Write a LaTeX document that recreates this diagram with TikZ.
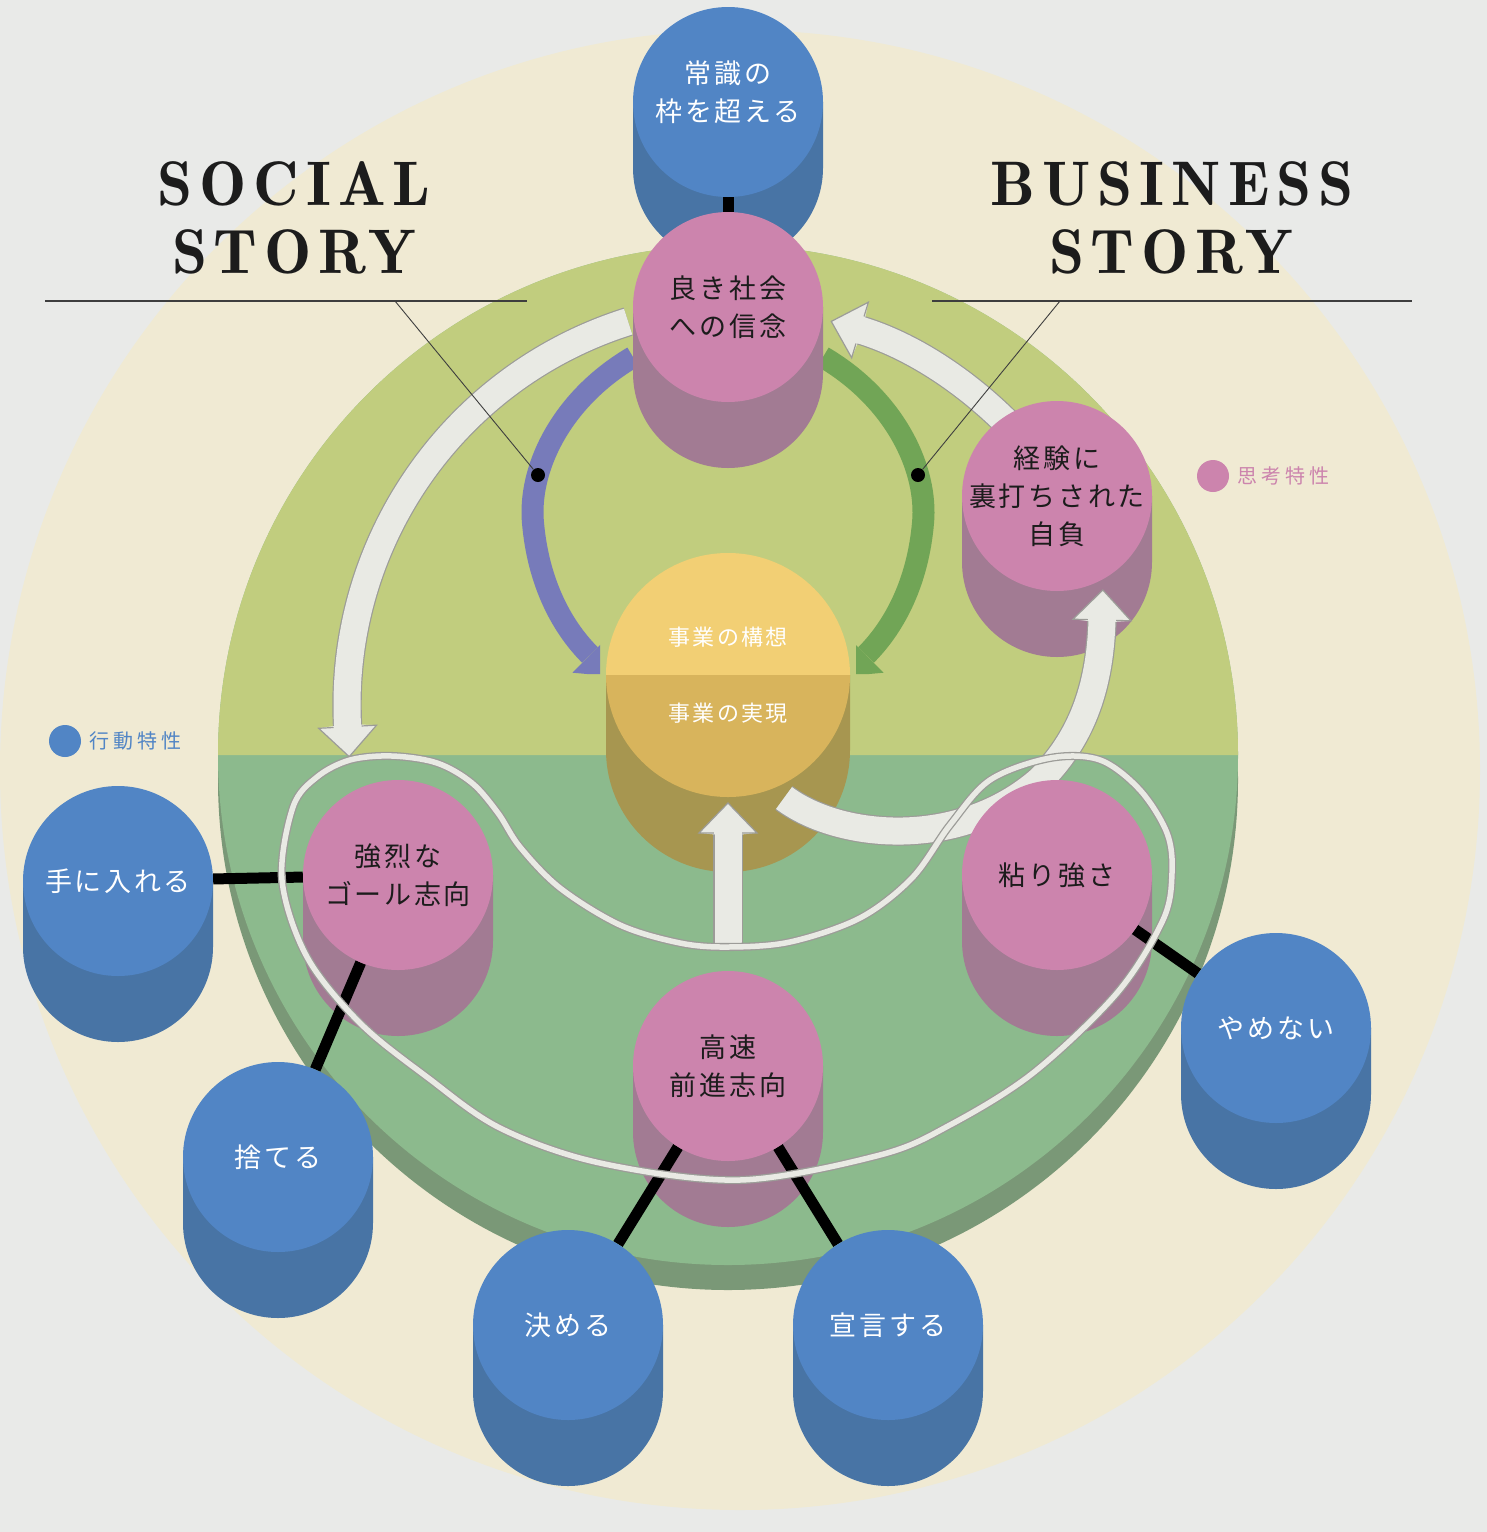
\documentclass[tikz,border=0pt]{standalone}
\usepackage{fontspec}
\usetikzlibrary{calc,positioning}
\newfontfamily\jpfont{Noto Sans CJK JP}[LetterSpace=10]
\newfontfamily\jpkeyfont{Noto Sans CJK JP}[LetterSpace=20]
\newfontfamily\titlefont{lmromandemi10-regular.otf}[LetterSpace=11]

\definecolor{PageGray}{HTML}{E9EAE8}
\definecolor{Cream}{HTML}{F0EAD3}
\definecolor{DiskUpper}{HTML}{C1CD7E}
\definecolor{DiskLower}{HTML}{8CBA8D}
\definecolor{DiskRim}{HTML}{7A9877}
\definecolor{ActBlue}{HTML}{5185C5}
\definecolor{ActBlueSide}{HTML}{4874A5}
\definecolor{ThinkPink}{HTML}{CC84AD}
\definecolor{ThinkPinkSide}{HTML}{A27B93}
\definecolor{CoreTop}{HTML}{F2CF74}
\definecolor{CoreMid}{HTML}{D8B45C}
\definecolor{CoreSide}{HTML}{A79650}
\definecolor{FlowWhite}{HTML}{E9EAE4}
\definecolor{FlowEdge}{HTML}{9C9C98}
\definecolor{SocialArc}{HTML}{777BBA}
\definecolor{BusinessArc}{HTML}{71A556}
\definecolor{Ink}{HTML}{1C1C1C}

\pgfdeclarelayer{bg}
\pgfdeclarelayer{arcs}
\pgfdeclarelayer{sides}
\pgfdeclarelayer{links}
\pgfdeclarelayer{flows}
\pgfsetlayers{bg,arcs,sides,links,flows,main}

\tikzset{
  face/.style={circle, minimum size=190, inner sep=-30pt, align=center,
    font=\jpfont\fontsize{27}{38}\selectfont},
  thinkface/.style={face, fill=ThinkPink, text=Ink},
  actface/.style={face, fill=ActBlue, text=white},
  corelabel/.style={text=white, font=\jpfont\fontsize{22}{26}\selectfont},
  link/.style={line width=11, draw=black},
  flowband/.style={draw=FlowEdge, line width=1.2, double=FlowWhite, double distance=27},
  loopline/.style={draw=FlowEdge, line width=1.3, double=FlowWhite, double distance=5.5},
  storyarc/.style={line width=22},
  rule/.style={draw=Ink!85, line width=1.1},
  dot/.style={circle, fill=black, minimum size=14, inner sep=0pt},
  keydot/.style={circle, minimum size=32, inner sep=0pt},
  keytext/.style={font=\jpkeyfont\fontsize{20}{24}\selectfont, inner sep=2pt},
  storytitle/.style={font=\titlefont\fontsize{63}{68}\selectfont, text=Ink, inner sep=0pt}
}

% side wall of a cylinder: centre x, centre y, colour, radius, depth
\newcommand{\cylside}[5]{%
  \fill[#3] (#1-#4,#2) -- (#1-#4,#2+#5) arc[start angle=180, end angle=0, radius=#4]
    -- (#1+#4,#2) -- cycle;}
% white arrow head: base point, direction
\newcommand{\whitetip}[2]{%
  \fill[FlowWhite] ($(#1)+(#2+90:29)$) -- ($(#1)+(#2:30)$) -- ($(#1)+(#2-90:29)$)
    -- ($(#1)+(#2-90:13)+(#2:-1.5)$) -- ($(#1)+(#2+90:13)+(#2:-1.5)$) -- cycle;
  \draw[FlowEdge, line width=1.2] ($(#1)+(#2+90:14.1)$) -- ($(#1)+(#2+90:29)$)
    -- ($(#1)+(#2:30)$) -- ($(#1)+(#2-90:29)$) -- ($(#1)+(#2-90:14.1)$);}
% coloured arrow head: base point, direction, colour
\newcommand{\arctip}[3]{%
  \fill[#3] ($(#1)+(#2+90:25)$) -- ($(#1)+(#2:30)$) -- ($(#1)+(#2-90:25)$) -- cycle;}

\begin{document}
\begin{tikzpicture}[x=1pt, y=1pt, yscale=-1]
\useasboundingbox (0,0) rectangle (1487,1532);

% ground and the two-tone disk
\begin{pgfonlayer}{bg}
  \fill[PageGray] (0,0) rectangle (1487,1532);
  \fill[Cream] (740,770) circle[radius=740];
  \fill[DiskRim] (728,780) circle[radius=510];
  \fill[DiskLower] (728,755) circle[radius=510];
  \fill[DiskUpper] (218,755) arc[start angle=180, end angle=360, radius=510] -- cycle;
\end{pgfonlayer}

% thinking traits
\node[thinkface] (belief) at (728,307) {良き社会\\への信念};
\node[thinkface] (pride) at (1057,496) {経験に\\裏打ちされた\\自負};
\node[thinkface] (goal) at (398,875) {強烈な\\ゴール志向};
\node[thinkface] (grit) at (1057,875) {粘り強さ};
\node[thinkface] (speed) at (728,1066) {高速\\前進志向};

% acting traits
\node[actface] (exceed) at (728,102) {};
\node[actface, fill=none, minimum size=0pt] (exceedtext) at (728,92) {常識の\\枠を超える};
\node[actface] (acquire) at (118,881) {手に入れる};
\node[actface] (discard) at (278,1157) {捨てる};
\node[actface] (decide) at (568,1325) {決める};
\node[actface] (declare) at (888,1325) {宣言する};
\node[actface] (persist) at (1276,1028) {やめない};

% business core
\fill[CoreTop] (606,675) arc[start angle=180, end angle=360, radius=122] -- cycle;
\fill[CoreMid] (850,675) arc[start angle=0, end angle=180, radius=122] -- cycle;
\node[circle, minimum size=244, inner sep=0pt] (core) at (728,675) {};
\node[corelabel] (plan) at (728,637) {事業の構想};
\node[corelabel] (realize) at (728,713) {事業の実現};

\begin{pgfonlayer}{sides}
  \foreach \x/\y in {728/307, 1057/496, 398/875, 1057/875, 728/1066}
    \cylside{\x}{\y}{ThinkPinkSide}{95}{66};
  \foreach \x/\y in {728/102, 118/881, 278/1157, 568/1325, 888/1325, 1276/1028}
    \cylside{\x}{\y}{ActBlueSide}{95}{66};
  \cylside{728}{675}{CoreSide}{122}{75};
\end{pgfonlayer}

\begin{pgfonlayer}{links}
  \draw[link] (exceed) -- (belief);
  \draw[link] (acquire) -- (goal);
  \draw[link] (goal) -- (discard);
  \draw[link] (speed) -- (decide);
  \draw[link] (speed) -- (declare);
  \draw[link] (grit) -- (persist);
\end{pgfonlayer}

% social and business story arcs into the core
\coordinate (socS) at (633,357);
\coordinate (socE) at (590,655);
\coordinate (bizS) at (823,357);
\coordinate (bizE) at (866,655);
\begin{pgfonlayer}{arcs}
  \begin{scope}
    \clip (0,0) rectangle (600,674) (0,0) rectangle (728,600);
    \draw[storyarc, SocialArc] (socS) .. controls (560,400) and (528,470) .. (533,523)
      .. controls (538,580) and (560,625) .. (socE);
    \arctip{socE}{45}{SocialArc}
  \end{scope}
  \begin{scope}
    \clip (856,0) rectangle (1487,674) (728,0) rectangle (1487,600);
    \draw[storyarc, BusinessArc] (bizS) .. controls (896,400) and (928,470) .. (923,523)
      .. controls (918,580) and (896,625) .. (bizE);
    \arctip{bizE}{135}{BusinessArc}
  \end{scope}
\end{pgfonlayer}

% white cycle arrows and the loop round the action traits
\coordinate (aS) at ($(749,705)+(252.5:402)$);
\coordinate (bS) at (1012,428);
\coordinate (bE) at (860,330);
\coordinate (cS) at (784,798);
\coordinate (cE) at (1102,620);
\coordinate (dS) at (728,945);
\coordinate (dE) at (728,833);
\begin{pgfonlayer}{flows}
  \draw[flowband] (aS) arc[start angle=252.5, end angle=176.9, radius=402] coordinate (aE);
  \whitetip{aE}{86.9}
  \draw[flowband] (bS) .. controls (965,380) and (910,345) .. (bE);
  \whitetip{bE}{196.7}
  \draw[flowband] (cS) .. controls (840,840) and (960,850) .. (1040,780)
    .. controls (1080,740) and (1100,690) .. (cE);
  \whitetip{cE}{271.6}
  \draw[flowband] (dS) -- (dE);
  \whitetip{dE}{270}
  \draw[loopline] plot[smooth cycle, tension=0.55] coordinates {
    (282,880) (293,807) (317,777) (350,760) (392,756) (437,763) (472,783)
    (498,813) (520,847) (560,888) (620,925) (680,943) (728,947) (790,942)
    (860,918) (912,878) (950,825) (990,780) (1050,758) (1100,760) (1140,790)
    (1167,833) (1172,873) (1163,920) (1117,993) (1033,1073) (950,1125)
    (880,1155) (740,1180) (600,1163) (500,1128) (427,1077) (360,1023) (307,957)};
\end{pgfonlayer}

% titles with their rules and leaders
\node[storytitle, anchor=base] (social1) at (294,205) {SOCIAL};
\node[storytitle, anchor=base] (social2) at (294,273) {STORY};
\node[storytitle, anchor=base] (business1) at (1172,205) {BUSINESS};
\node[storytitle, anchor=base] (business2) at (1171,273) {STORY};
\draw[rule] (45,301) -- (527,301);
\draw[rule] (932,301) -- (1412,301);
\coordinate (socfoot) at (395,301);
\coordinate (bizfoot) at (1060,301);
\node[dot] (socdot) at (538,475) {};
\node[dot] (bizdot) at (918,475) {};
\draw[rule, line width=0.9] (socfoot) -- (socdot);
\draw[rule, line width=0.9] (bizfoot) -- (bizdot);

% keys
\node[keydot, fill=ThinkPink] (thinkkey) at (1213,476) {};
\node[keytext, text=ThinkPink, right=6pt of thinkkey] (thinklabel) {思考特性};
\node[keydot, fill=ActBlue] (actkey) at (65,741) {};
\node[keytext, text=ActBlue, right=6pt of actkey] (actlabel) {行動特性};
\end{tikzpicture}
\end{document}
